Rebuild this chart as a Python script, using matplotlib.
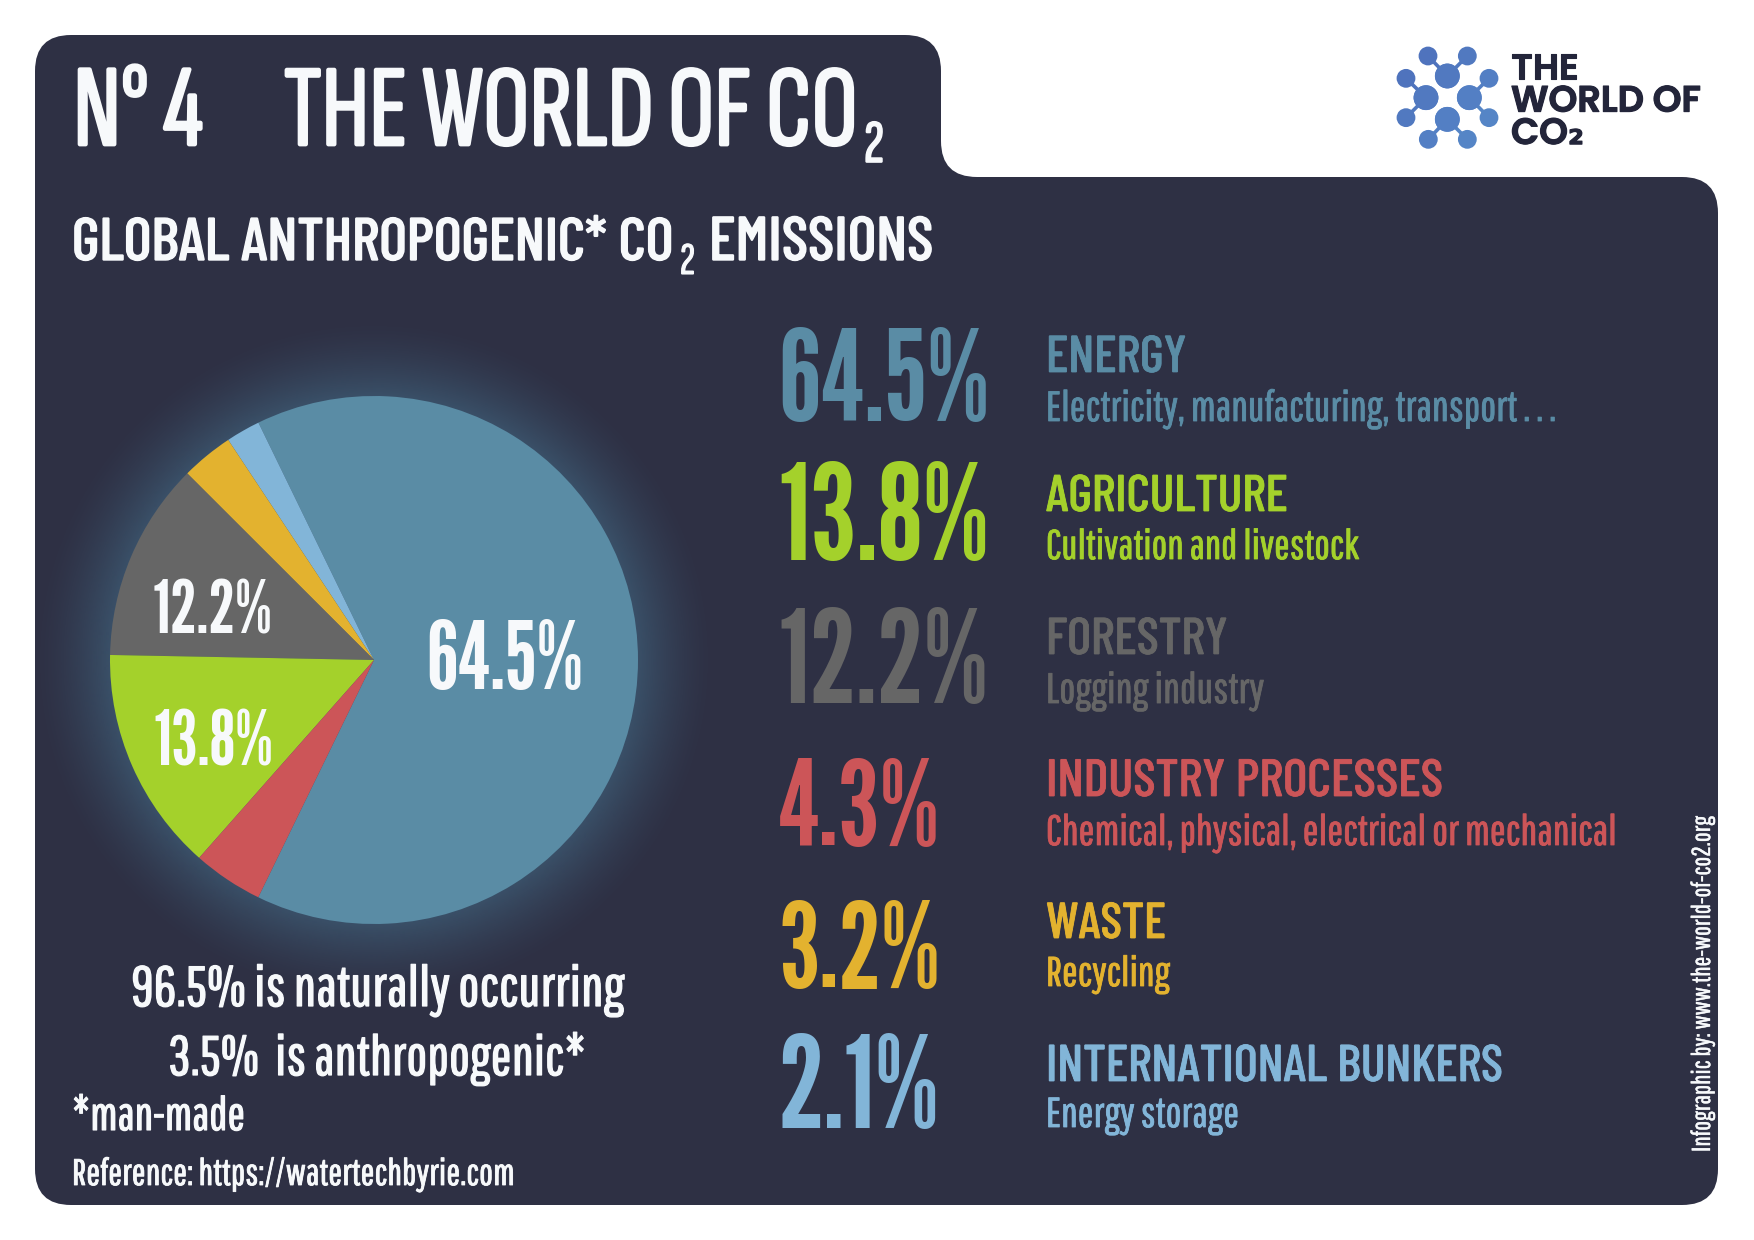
import numpy as np
import matplotlib
matplotlib.use("Agg")
import matplotlib.pyplot as plt
import matplotlib.patheffects as pe
from matplotlib.patches import Circle, PathPatch
from matplotlib.path import Path
from matplotlib.colors import to_rgb

W, H = 1754, 1240
BG = "#2e3044"
WHITE = "#f7f9fb"
TALL = ["Sofia Sans Extra Condensed", "Liberation Sans Narrow", "DejaVu Sans"]
NUMS = ["League Gothic", "Liberation Sans Narrow", "DejaVu Sans"]
HEAD = ["Barlow Condensed", "Liberation Sans Narrow", "DejaVu Sans"]
BODY = ["Pathway Gothic One", "Liberation Sans Narrow", "DejaVu Sans"]
LOGO = ["Poppins", "DejaVu Sans"]

# pie data, counterclockwise from the lower left
pie_labels = ["Energy", "International bunkers", "Waste", "Forestry", "Agriculture", "Industry processes"]
pie_values = [64.5, 2.1, 3.2, 12.2, 13.8, 4.3]
pie_colors = ["#5a8ca5", "#82b5d8", "#e3b22f", "#666666", "#a4d12b", "#cc5558"]

# right hand list, top to bottom
row_pct = ["64.5%", "13.8%", "12.2%", "4.3%", "3.2%", "2.1%"]
row_names = ["ENERGY", "AGRICULTURE", "FORESTRY", "INDUSTRY PROCESSES", "WASTE", "INTERNATIONAL BUNKERS"]
row_subs = ["Electricity, manufacturing, transport . . .", "Cultivation and livestock", "Logging industry",
            "Chemical, physical, electrical or mechanical", "Recycling", "Energy storage"]
row_colors = ["#5a8ca5", "#a4d12b", "#666666", "#cc5558", "#e3b22f", "#82b5d8"]

# layout of the list, in pixels
pct_right = [989, 989, 989, 940, 940, 940]
pct_base = [421, 560, 703, 845, 987, 1128]
name_right = [1187, 1288, 1228, 1444, 1166, 1504]
name_base = [372, 511, 654, 796, 938, 1081]
sub_right = [1556, 1359, 1264, 1617, 1170, 1239]
sub_base = [421, 559, 703, 845, 986, 1127]

fig = plt.figure(figsize=(W / 100, H / 100), dpi=100, facecolor="white")
ax = fig.add_axes([0, 0, 1, 1])
renderer = fig.canvas.get_renderer()


def put(s, x0, x1, base, fam=TALL, color=WHITE, rotation=0, bold=1.6, **kw):
    """Text from x0 to x1 in pixels (y measured from the top), size found from the width."""
    txt = ax.text(x0, H - base, s, family=fam, color=color, fontsize=40, va="baseline", ha="left", **kw)
    size = 40 * (x1 - x0) / txt.get_window_extent(renderer).width
    txt.set_fontsize(size)
    if bold:
        txt.set_path_effects([pe.withStroke(linewidth=bold, foreground=color)])
    if rotation:
        txt.set_rotation(rotation)
        txt.set_rotation_mode("anchor")
    return txt


def card_path():
    left, right, top, mid, bot, tab = 35, 1718, 35, 177, 1205, 941
    r = 36
    v = [(left + r, H - top), (tab - r, H - top), (tab, H - top), (tab, H - top - r),
         (tab, H - mid + r), (tab, H - mid), (tab + r, H - mid),
         (right - r, H - mid), (right, H - mid), (right, H - mid - r),
         (right, H - bot + r), (right, H - bot), (right - r, H - bot),
         (left + r, H - bot), (left, H - bot), (left, H - bot + r),
         (left, H - top - r), (left, H - top), (left + r, H - top), (left + r, H - top)]
    c = [Path.MOVETO, Path.LINETO, Path.CURVE3, Path.CURVE3,
         Path.LINETO, Path.CURVE3, Path.CURVE3,
         Path.LINETO, Path.CURVE3, Path.CURVE3,
         Path.LINETO, Path.CURVE3, Path.CURVE3,
         Path.LINETO, Path.CURVE3, Path.CURVE3,
         Path.LINETO, Path.CURVE3, Path.CURVE3, Path.CLOSEPOLY]
    return Path(v, c)


ax.add_patch(PathPatch(card_path(), fc=BG, ec="none", zorder=0))

# soft glow behind the pie
cx, cy, rad = 374, H - 660, 264
glow_w = 78
xx, yy = np.meshgrid(np.arange(cx - rad - glow_w, cx + rad + glow_w), np.arange(cy - rad - glow_w, cy + rad + glow_w))
dist = np.hypot(xx - cx, yy - cy)
rgba = np.zeros(dist.shape + (4,))
rgba[..., :3] = to_rgb("#3a5068")
rgba[..., 3] = np.clip((rad + glow_w - dist) / glow_w, 0, 1) ** 1.5
ax.imshow(rgba, extent=(xx.min(), xx.max(), yy.min(), yy.max()), origin="lower", zorder=1, aspect="auto")

wedges, _ = ax.pie(pie_values, colors=pie_colors, center=(cx, cy), radius=rad, startangle=-116,
                   counterclock=True, frame=False, wedgeprops=dict(linewidth=0))
for w in wedges:
    w.set_zorder(2)

# logo
small = [(264, 108), (382, 108), (198, 175), (447, 175), (198, 293), (447, 293), (265, 358), (382, 358)]
big = [(322, 168), (322, 168), (258, 233), (388, 233), (258, 233), (388, 233), (322, 298), (322, 298)]


def logo_color(x, y):
    # goes from deep blue at the top left to lighter blue at the bottom right
    t = (x + y) / 800
    return tuple(np.array(to_rgb("#4860b4")) * (1 - t) + np.array(to_rgb("#5688c8")) * t)


for (sx, sy), (bx, by) in zip(small, big):
    p0 = (1340 + sx / 3, H - 20 - sy / 3)
    p1 = (1340 + bx / 3, H - 20 - by / 3)
    ax.plot([p0[0], p1[0]], [p0[1], p1[1]], color=logo_color(sx, sy), lw=2.6, zorder=1, solid_capstyle="butt")
    ax.add_patch(Circle(p0, 9.4, fc=logo_color(sx, sy), ec="none", zorder=2))
    ax.add_patch(Circle(p1, 12.4, fc=logo_color(bx, by), ec="none", zorder=2))
put("THE\nWORLD OF\nCO\u2082", 1511, 1701, 144, fam=LOGO, color="#23253a", weight="semibold", bold=0.8,
    linespacing=0.8)

# headings
put("N° 4", 73, 203, 145, bold=2)
put("THE WORLD OF CO", 284, 858, 145, bold=2)
put("2", 864, 884, 162, bold=1.2)
put("GLOBAL ANTHROPOGENIC* CO", 72, 674, 260, fam=HEAD, weight="medium", bold=1)
put("2", 680, 695, 274, bold=0.8)
put("EMISSIONS", 709, 934, 260, fam=HEAD, weight="medium", bold=1)

# pie labels
put("64.5%", 426, 583, 689, fam=NUMS, bold=0)
put("12.2%", 153, 273, 633, fam=NUMS, bold=0)
put("13.8%", 153, 273, 766, fam=NUMS, bold=0)

# list on the right
for i in range(len(row_pct)):
    put(row_pct[i], 778, pct_right[i], pct_base[i], fam=NUMS, color=row_colors[i], bold=0)
    put(row_names[i], 1046, name_right[i], name_base[i], fam=HEAD, color=row_colors[i], weight="medium", bold=0.6)
    put(row_subs[i], 1046, sub_right[i], sub_base[i], fam=BODY, color=row_colors[i], bold=0.6)

# notes
put("96.5% is naturally occurring", 131, 624, 1006, fam=BODY, bold=0.9)
put("3.5%  is anthropogenic*", 168, 586, 1075, fam=BODY, bold=0.9)
put("*man-made", 72, 245, 1130, fam=BODY, bold=0.8)
put("Reference: https://watertechbyrie.com", 72, 515, 1185, fam=BODY, bold=0.6)

put("Infographic by: www.the-world-of-co2.org", 1710, 2046, 1152, fam=BODY, rotation=90, bold=0.3)

ax.set_xlim(0, W)
ax.set_ylim(0, H)
ax.set_aspect("auto")
ax.axis("off")
fig.savefig("out.png", dpi=100, facecolor="white")
